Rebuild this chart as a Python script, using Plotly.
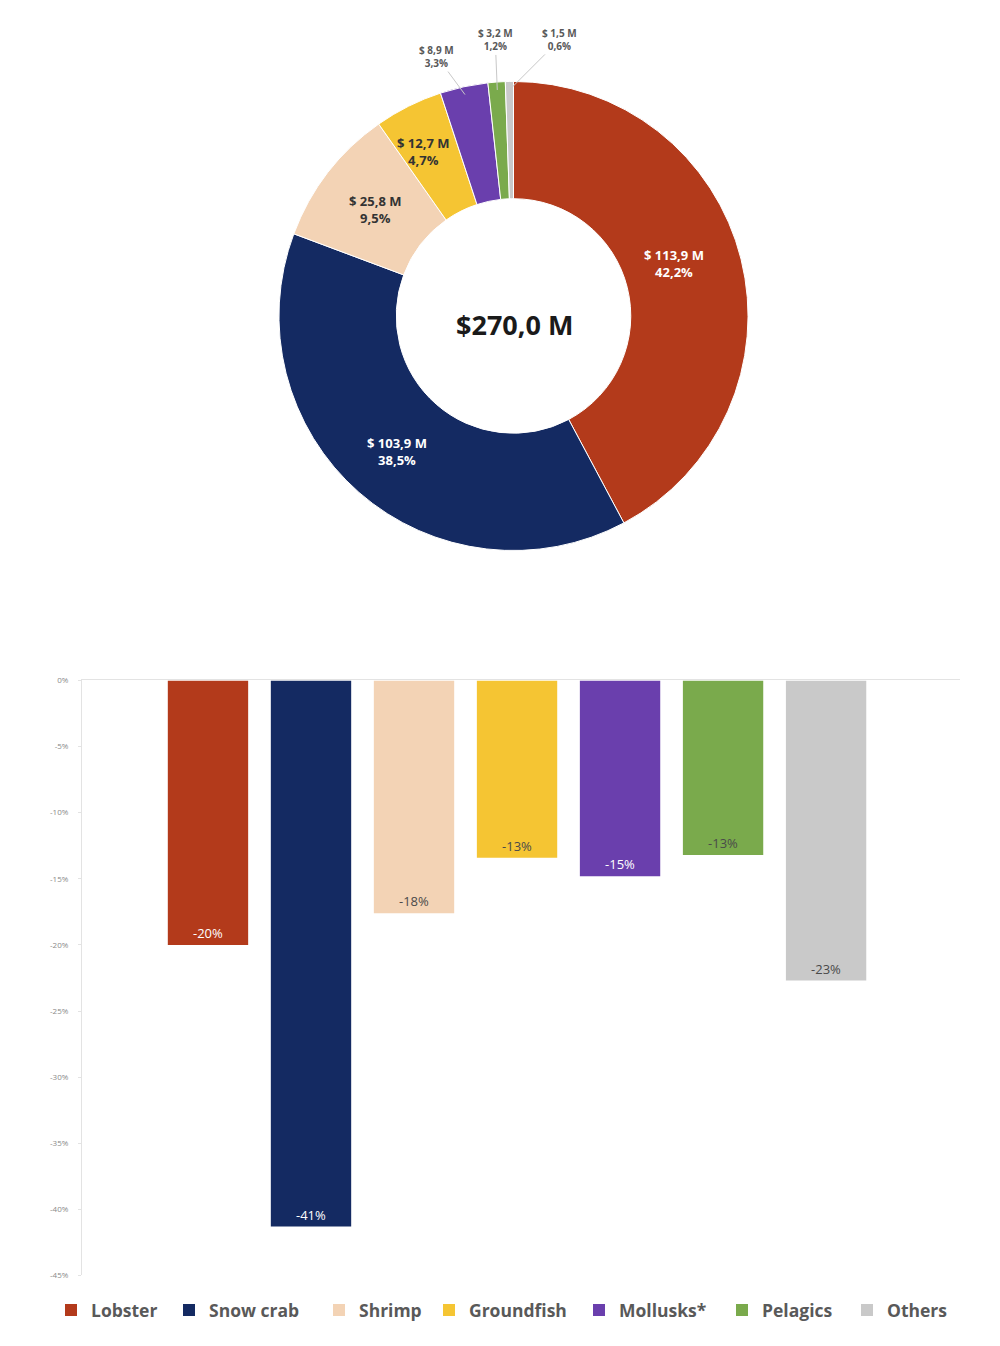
import math
import plotly.graph_objects as go

# ---------------- data ----------------
categories = ["Lobster", "Snow crab", "Shrimp", "Groundfish", "Mollusks*", "Pelagics", "Others"]
values_musd = [113.9, 103.9, 25.8, 12.7, 8.9, 3.2, 1.5]
shares_pct = [42.2, 38.5, 9.5, 4.7, 3.3, 1.2, 0.6]
total_label = "$270,0 M"
change_pct = [-20.0, -41.3, -17.6, -13.4, -14.8, -13.2, -22.7]
change_labels = ["-20%", "-41%", "-18%", "-13%", "-15%", "-13%", "-23%"]
y_tick_vals = [0, -5, -10, -15, -20, -25, -30, -35, -40, -45]
y_tick_text = ["0%", "-5%", "-10%", "-15%", "-20%", "-25%", "-30%", "-35%", "-40%", "-45%"]

# ---------------- styles ----------------
colors = ["#B33A1B", "#142A62", "#F3D3B5", "#F5C533", "#6A3FAD", "#7AAA4C", "#C9C9C9"]
pie_text_colors = ["white", "white", "#333333", "#333333", "#595959", "#595959", "#595959"]
bar_text_colors = ["white", "white", "#4a4a4a", "#4a4a4a", "white", "#4a4a4a", "#4a4a4a"]
FONT = "Open Sans"
OFF = 8                      # page body margin
W, H = 1000 - 2 * OFF, 1346 - 2 * OFF

# donut geometry (window pixels)
CX, CY, R = 513.5, 312.5, 236.5
HOLE = 0.50
# inside-label placement: fraction along slice, radius fraction
label_ang_frac = [0.465, 0.5, 0.52, 0.40]
label_r_frac = [0.725, 0.757, 0.76, 0.82]
# legend square left edges (window pixels)
legend_left = [67, 185, 335, 445, 595, 738, 863]


def px(x, y):
    return (x - OFF) / W, 1 - (y - OFF) / H


fig = go.Figure()

x0, y1 = px(CX - R, CY - R)
x1, y0 = px(CX + R, CY + R)
fig.add_trace(go.Pie(
    labels=categories,
    values=values_musd,
    hole=HOLE,
    sort=False,
    direction="clockwise",
    rotation=0,
    marker=dict(colors=colors, line=dict(color="white", width=1)),
    textinfo="none",
    hoverinfo="label+value+percent",
    showlegend=False,
    domain=dict(x=[x0, x1], y=[y0, y1]),
))

# slice labels, positioned from the data (cumulative angles)
total = sum(values_musd)
cum = 0.0
annotations = []
VC, VCY = 514, 316   # visible donut centre
RV = 234             # visible radius
small_offsets = {4: (-28, -38), 5: (-2, -50), 6: (50, -50)}
for i, v in enumerate(values_musd):
    if i < 4:
        mid = (cum + v * label_ang_frac[i]) / total
    else:
        mid = (cum + v / 2) / total
    cum += v
    ang = 2 * math.pi * mid
    val_txt = ("$ %.1f M" % v).replace(".", ",")
    pct_txt = ("%.1f%%" % shares_pct[i]).replace(".", ",")
    if i < 4:
        rm = RV * label_r_frac[i]
        x = VC + rm * math.sin(ang)
        y = VCY - rm * math.cos(ang)
        xp, yp = px(x, y)
        annotations.append(dict(
            x=xp, y=yp, xref="paper", yref="paper", showarrow=False,
            xanchor="center", yanchor="middle",
            text="<b>%s<br>%s</b>" % (val_txt, pct_txt),
            font=dict(family=FONT, size=13, color=pie_text_colors[i]),
            align="center",
        ))
    else:
        x = VC + (RV - 2) * math.sin(ang)
        y = VCY - (RV - 2) * math.cos(ang)
        xp, yp = px(x, y)
        ax, ay = small_offsets[i]
        annotations.append(dict(
            x=xp, y=yp, xref="paper", yref="paper", showarrow=True,
            ax=ax, ay=ay, arrowhead=0, arrowwidth=1, arrowcolor="#C8C8C8",
            standoff=0, startstandoff=0,
            xanchor="center", yanchor="middle",
            text="<b>%s<br>%s</b>" % (val_txt, pct_txt),
            font=dict(family=FONT, size=10, color=pie_text_colors[i]),
            align="center",
        ))

cxp, cyp = px(VC, VCY + 5)
annotations.append(dict(
    x=cxp, y=cyp, xref="paper", yref="paper", showarrow=False,
    xanchor="center", yanchor="middle",
    text="<b>%s</b>" % total_label,
    font=dict(family=FONT, size=27, color="#1a1a1a"),
))

# ---------------- bar chart ----------------
legends = {}
for i, cat in enumerate(categories):
    lg = "legend" if i == 0 else "legend%d" % (i + 1)
    fig.add_trace(go.Bar(
        x=[i], y=[change_pct[i]], name=cat,
        marker=dict(color=colors[i], line=dict(width=0)),
        width=0.78,
        text=[change_labels[i]], textposition="inside", insidetextanchor="end",
        textangle=0,
        textfont=dict(family=FONT, size=13, color=bar_text_colors[i]),
        cliponaxis=False, legend=lg,
        xaxis="x", yaxis="y",
    ))
    lx, ly = px(legend_left[i] - 16, 1315)
    legends[lg] = dict(
        x=lx, xanchor="left", y=ly, yanchor="middle",
        orientation="h", bgcolor="rgba(0,0,0,0)",
        font=dict(family=FONT, size=17.5, color="#595959", weight="bold"),
    )

xa0, _ = px(82, 0)
xa1, _ = px(960, 0)
_, ya1 = px(0, 680)
_, ya0 = px(0, 1280)

fig.update_layout(
    width=W, height=H, autosize=False,
    margin=dict(l=0, r=0, t=0, b=0),
    paper_bgcolor="white", plot_bgcolor="white",
    barmode="overlay",
    font=dict(family=FONT, color="#404040"),
    annotations=annotations,
    xaxis=dict(
        domain=[xa0, xa1], range=[-1.223, 7.30],
        side="top", showline=True, linecolor="#E3E3E3", linewidth=1,
        showticklabels=False, ticks="", showgrid=False, zeroline=False,
        fixedrange=True,
    ),
    yaxis=dict(
        domain=[ya0, ya1], range=[-45, 0],
        tickvals=y_tick_vals, ticktext=y_tick_text,
        tickfont=dict(family=FONT, size=8, color="#8a8a8a"),
        showline=True, linecolor="#E3E3E3", linewidth=1,
        ticks="outside", ticklen=3, tickcolor="#E3E3E3",
        ticklabelstandoff=8,
        showgrid=False, zeroline=False, fixedrange=True,
    ),
    **legends,
)

fig.write_html("out.html")
